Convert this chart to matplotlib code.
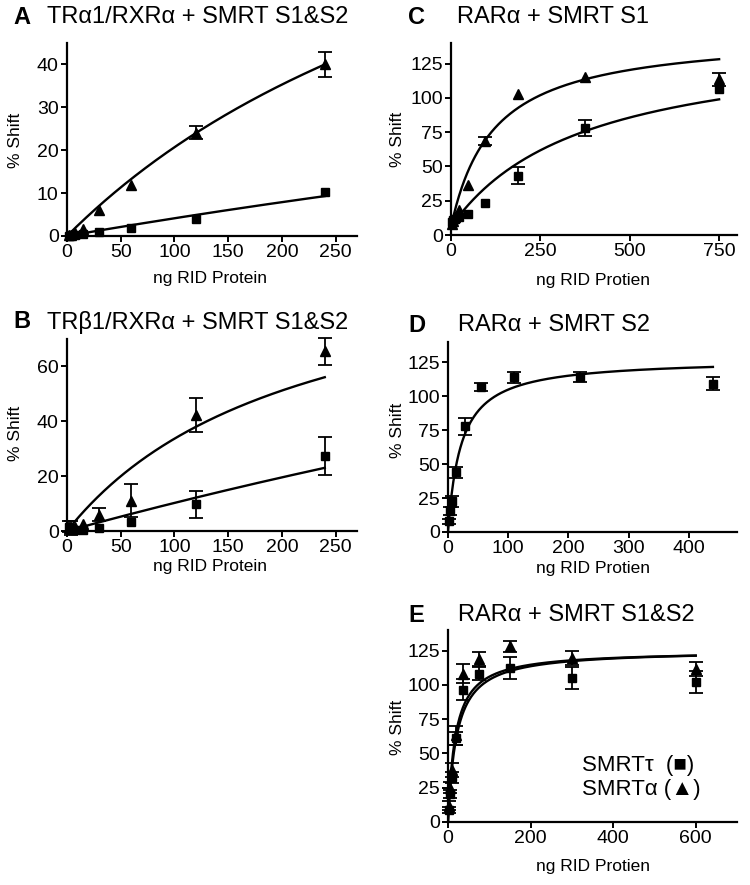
import matplotlib.pyplot as plt
import numpy as np

plt.rcParams['font.family'] = ['Liberation Sans', 'DejaVu Sans']

# ---- data ----
# panel A : TRa1/RXRa + SMRT S1&S2
a_dose = [1.875, 3.75, 7.5, 15, 30, 60, 120, 240]
a_tri = [0.2, 0.3, 0.6, 1.6, 6.1, 12.0, 24.1, 40.0]
a_tri_err = [0, 0, 0, 0, 0, 0, 1.5, 3.0]
a_sq = [0.1, 0.2, 0.3, 0.5, 0.9, 1.8, 3.9, 10.2]
a_sq_err = [0, 0, 0, 0, 0, 0, 0, 0]
a_fit_tri = [0, 120.0, 480.0]   # offset, Bmax, Kd
a_fit_sq = [0, 86.8, 2000.0]

# panel B : TRb1/RXRa + SMRT S1&S2
b_dose = [1.875, 3.75, 7.5, 15, 30, 60, 120, 240]
b_tri = [1.0, 1.0, 1.5, 2.7, 6.0, 11.0, 42.3, 65.5]
b_tri_err = [0, 2.5, 0, 0, 2.3, 6.0, 6.3, 5.0]
b_sq = [1.5, 0.5, 0.5, 0.3, 1.1, 3.1, 9.7, 27.3]
b_sq_err = [2.0, 0, 0, 0, 0, 0, 4.8, 7.0]
b_fit_tri = [0, 107.0, 218.0]
b_fit_sq = [0, 215.0, 2000.0]

# panel C : RARa + SMRT S1
c_dose = [2.9, 5.9, 11.7, 23.4, 46.9, 93.75, 187.5, 375, 750]
c_tri = [8.0, 10.0, 13.0, 18.5, 36.8, 68.4, 103.0, 115.2, 113.5]
c_tri_err = [0, 0, 0, 0, 0, 3.0, 0, 0, 4.5]
c_sq = [9.6, 11.0, 12.0, 13.2, 15.3, 23.4, 43.3, 78.2, 106.7]
c_sq_err = [0, 0, 0, 0, 0, 0, 6.4, 5.8, 0]
c_fit_tri = [6.0, 141.5, 118.6]
c_fit_sq = [6.0, 139.3, 374.4]

# panel D : RARa + SMRT S2
d_dose = [1.7, 3.4, 6.9, 13.75, 27.5, 55, 110, 220, 440]
d_sq = [7.8, 15.2, 22.6, 43.9, 77.8, 106.9, 113.9, 114.2, 109.3]
d_sq_err = [2.0, 3.0, 4.0, 4.0, 6.0, 3.0, 4.0, 4.0, 4.7]
d_fit_sq = [0, 127.6, 21.6]

# panel E : RARa + SMRT S1&S2
e_dose = [2.3, 4.7, 9.4, 18.75, 37.5, 75, 150, 300, 600]
e_sq = [8.6, 20.2, 32.5, 60.9, 96.6, 108.2, 112.6, 105.3, 102.3]
e_sq_err = [2.0, 3.0, 4.0, 5.0, 8.0, 5.0, 8.0, 8.0, 8.0]
e_tri = [12.0, 25.0, 38.0, 63.3, 108.2, 118.8, 128.0, 119.5, 111.4]
e_tri_err = [3.0, 4.0, 5.0, 7.0, 7.0, 5.0, 4.0, 5.0, 5.0]
e_fit_sq = [0, 125.5, 21.0]
e_fit_tri = [0, 125.0, 18.0]

W, H = 750, 885
fig = plt.figure(figsize=(W / 100, H / 100), dpi=100)


def box(l, t, r, b):
    return [l / W, 1 - b / H, (r - l) / W, (b - t) / H]


def fig_txt(x, y, s, **kw):
    fig.text(x / W, 1 - y / H, s, **kw)


def hyper(p, xmax):
    xs = np.linspace(0, xmax, 300)
    return xs, p[0] + p[1] * xs / (p[2] + xs)


def draw(ax, dose, vals, errs, marker, ms):
    dose = np.array(dose)
    vals = np.array(vals)
    errs = np.array(errs)
    keep = errs > 0
    if keep.any():
        ax.errorbar(dose[keep], vals[keep], yerr=errs[keep], fmt='none',
                    ecolor='black', elinewidth=1.3, capsize=5, capthick=1.3,
                    clip_on=False, zorder=3)
    ax.plot(dose, vals, marker, color='black', ms=ms, clip_on=False, zorder=4)


def style(ax, xlim, xt, ylim, yt):
    ax.set_xlim(xlim)
    ax.set_ylim(ylim)
    ax.set_xticks(xt)
    ax.set_yticks(yt)
    for s in ['top', 'right']:
        ax.spines[s].set_visible(False)
    for s in ['left', 'bottom']:
        ax.spines[s].set_linewidth(1.6)
    ax.tick_params(direction='out', length=4, width=1.4, labelsize=14, pad=2)


# A
ax = fig.add_axes(box(67, 43, 357, 236))
for p in [a_fit_tri, a_fit_sq]:
    xs, ys = hyper(p, 240)
    ax.plot(xs, ys, color='black', lw=1.7)
draw(ax, a_dose, a_tri, a_tri_err, '^', 7)
draw(ax, a_dose, a_sq, a_sq_err, 's', 6)
style(ax, (0, 270), [0, 50, 100, 150, 200, 250], (0, 45), [0, 10, 20, 30, 40])

# B
ax = fig.add_axes(box(67, 339, 357, 531))
for p in [b_fit_tri, b_fit_sq]:
    xs, ys = hyper(p, 240)
    ax.plot(xs, ys, color='black', lw=1.7)
draw(ax, b_dose, b_tri, b_tri_err, '^', 7)
draw(ax, b_dose, b_sq, b_sq_err, 's', 6)
style(ax, (0, 270), [0, 50, 100, 150, 200, 250], (0, 70), [0, 20, 40, 60])

# C
ax = fig.add_axes(box(451, 43, 737, 235))
for p in [c_fit_tri, c_fit_sq]:
    xs, ys = hyper(p, 750)
    ax.plot(xs, ys, color='black', lw=1.7)
draw(ax, c_dose, c_tri, c_tri_err, '^', 7)
draw(ax, c_dose, c_sq, c_sq_err, 's', 6)
style(ax, (0, 800), [0, 250, 500, 750], (0, 140), [0, 25, 50, 75, 100, 125])

# D
ax = fig.add_axes(box(448, 342, 737, 532))
xs, ys = hyper(d_fit_sq, 440)
ax.plot(xs, ys, color='black', lw=1.7)
draw(ax, d_dose, d_sq, d_sq_err, 's', 6)
style(ax, (0, 480), [0, 100, 200, 300, 400], (0, 140), [0, 25, 50, 75, 100, 125])

# E
ax = fig.add_axes(box(448, 630, 737, 822))
for p in [e_fit_sq, e_fit_tri]:
    xs, ys = hyper(p, 600)
    ax.plot(xs, ys, color='black', lw=1.7)
draw(ax, e_dose, e_tri, e_tri_err, '^', 7)
draw(ax, e_dose, e_sq, e_sq_err, 's', 6)
style(ax, (0, 700), [0, 200, 400, 600], (0, 140), [0, 25, 50, 75, 100, 125])
fig_txt(582, 765, 'SMRTτ  (■)', fontsize=16, va='center')
fig_txt(582, 790, 'SMRTα (▲)', fontsize=16, va='center')

# panel letters and titles
titles = [(13, 47, 17, 'A', 'TRα1/RXRα + SMRT S1&S2'),
          (13, 47, 322, 'B', 'TRβ1/RXRα + SMRT S1&S2'),
          (408, 457, 17, 'C', 'RARα + SMRT S1'),
          (408, 458, 325, 'D', 'RARα + SMRT S2'),
          (408, 458, 615, 'E', 'RARα + SMRT S1&S2')]
for lx, tx, y, letter, title in titles:
    fig_txt(lx, y, letter, fontsize=17, fontweight='bold', va='center')
    fig_txt(tx, y, title, fontsize=17, va='center')

# axis labels
xlabels = [(210, 278, 'ng RID Protein'), (210, 566, 'ng RID Protein'),
           (593, 280, 'ng RID Protien'), (593, 568, 'ng RID Protien'),
           (593, 866, 'ng RID Protien')]
for x, y, s in xlabels:
    fig_txt(x, y, s, fontsize=12.5, ha='center', va='center')
ylabels = [(15, 140), (15, 433), (398, 139), (397, 430), (397, 727)]
for x, y in ylabels:
    fig_txt(x, y, '% Shift', fontsize=12.5, ha='center', va='center', rotation=90)

fig.savefig('out.png', dpi=100)
